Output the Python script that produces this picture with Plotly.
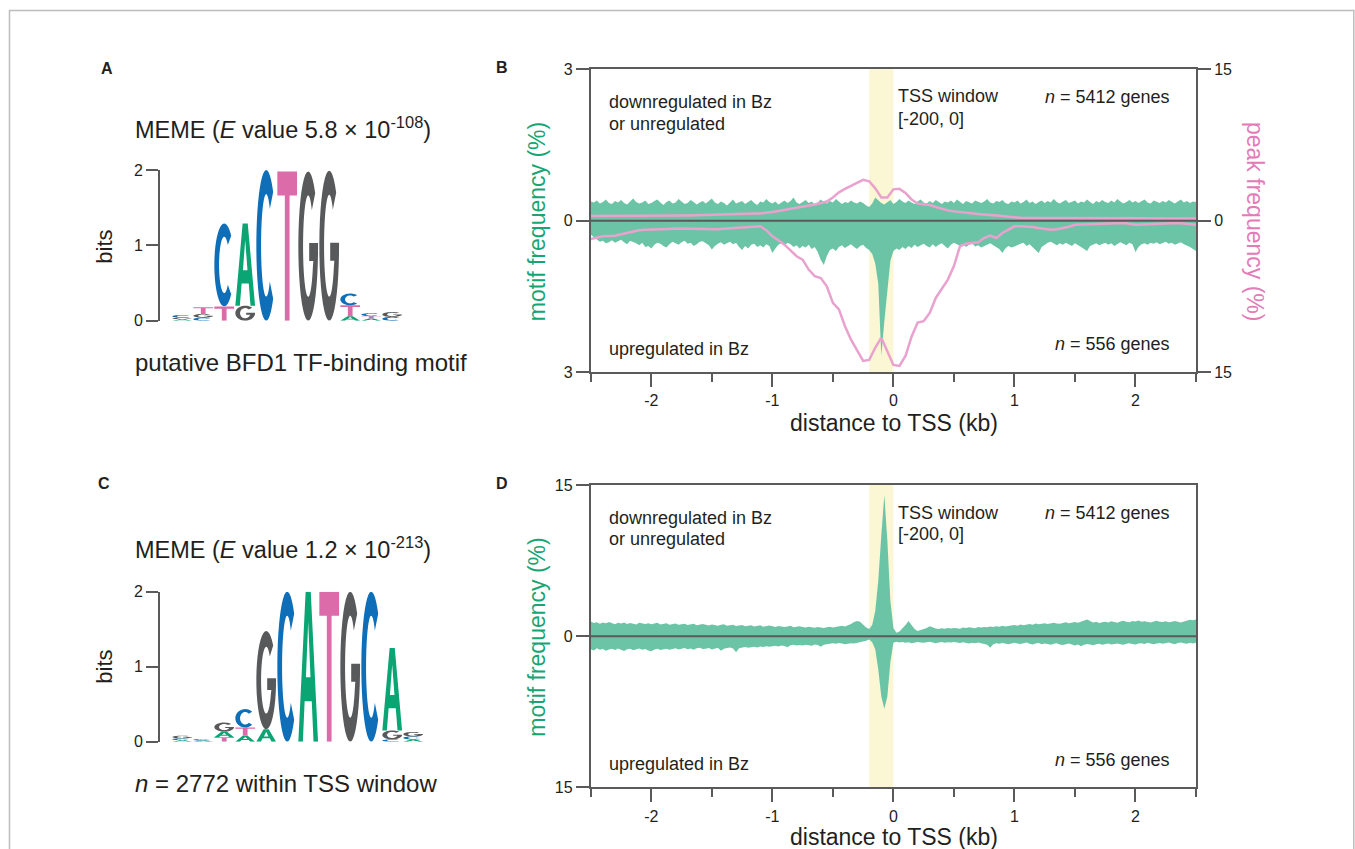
import numpy as np
import plotly.graph_objects as go

W, H = 1355, 849

# ------------------------------------------------------------------ data
# distance grid (kb) for motif-frequency profiles
dist_kb = [round(-2.5 + 0.025 * i, 3) for i in range(201)]
# distance grid (kb) for peak-frequency profiles
peak_kb = [round(-2.5 + 0.05 * i, 3) for i in range(101)]

# Panel B: motif frequency (%), downregulated or unregulated genes (plotted upward)
B_motif_down_unreg = [
    0.38, 0.36, 0.40, 0.34, 0.37, 0.42, 0.35, 0.33, 0.39, 0.36,
    0.41, 0.35, 0.32, 0.38, 0.44, 0.37, 0.34, 0.36, 0.40, 0.33,
    0.35, 0.39, 0.42, 0.36, 0.31, 0.37, 0.40, 0.34, 0.36, 0.43,
    0.38, 0.33, 0.35, 0.41, 0.37, 0.32, 0.36, 0.39, 0.34, 0.40,
    0.44, 0.36, 0.33, 0.38, 0.35, 0.30, 0.37, 0.42, 0.34, 0.36,
    0.39, 0.33, 0.37, 0.41, 0.35, 0.31, 0.38, 0.36, 0.43, 0.37,
    0.34, 0.38, 0.32, 0.36, 0.40, 0.35, 0.39, 0.46, 0.36, 0.33,
    0.37, 0.41, 0.35, 0.38, 0.32, 0.36, 0.42, 0.37, 0.34, 0.39,
    0.36, 0.43, 0.38, 0.33, 0.37, 0.35, 0.40, 0.36, 0.34, 0.38,
    0.35, 0.30, 0.27, 0.34, 0.46, 0.40, 0.35, 0.32, 0.36, 0.41,
    0.33, 0.37, 0.43, 0.38, 0.35, 0.40, 0.36, 0.33, 0.38, 0.42,
    0.36, 0.34, 0.39, 0.35, 0.41, 0.37, 0.33, 0.38, 0.36, 0.40,
    0.35, 0.42, 0.37, 0.33, 0.39, 0.36, 0.34, 0.40, 0.37, 0.35,
    0.38, 0.43, 0.36, 0.34, 0.39, 0.37, 0.41, 0.35, 0.33, 0.38,
    0.36, 0.40, 0.34, 0.37, 0.42, 0.35, 0.38, 0.33, 0.37, 0.40,
    0.35, 0.39, 0.36, 0.43, 0.37, 0.34, 0.38, 0.41, 0.35, 0.37,
    0.40, 0.34, 0.38, 0.36, 0.42, 0.37, 0.33, 0.39, 0.36, 0.41,
    0.37, 0.35, 0.40, 0.36, 0.43, 0.38, 0.34, 0.37, 0.41, 0.36,
    0.39, 0.35, 0.38, 0.42, 0.36, 0.34, 0.40, 0.37, 0.35, 0.39,
    0.36, 0.41, 0.37, 0.34, 0.38, 0.42, 0.36, 0.39, 0.35, 0.38,
    0.37,
]
# Panel B: motif frequency (%), upregulated genes (plotted downward)
B_motif_up = [
    0.28, 0.33, 0.38, 0.42, 0.40, 0.45, 0.43, 0.39, 0.44, 0.41,
    0.38, 0.43, 0.47, 0.40, 0.42, 0.45, 0.49, 0.44, 0.52, 0.50,
    0.55, 0.48, 0.44, 0.46, 0.50, 0.53, 0.47, 0.42, 0.45, 0.48,
    0.43, 0.40, 0.46, 0.44, 0.50, 0.47, 0.42, 0.41, 0.45, 0.49,
    0.57, 0.50, 0.46, 0.43, 0.48, 0.45, 0.42, 0.47, 0.44, 0.52,
    0.58, 0.50, 0.55, 0.48, 0.46, 0.52, 0.49, 0.53, 0.47, 0.50,
    0.64, 0.55, 0.48, 0.45, 0.50, 0.44, 0.47, 0.52, 0.49, 0.55,
    0.50, 0.53, 0.48, 0.56, 0.52, 0.62, 0.78, 0.88, 0.70, 0.58,
    0.55, 0.60, 0.52, 0.49, 0.54, 0.50, 0.47, 0.52, 0.56, 0.50,
    0.48, 0.54, 0.58, 0.66, 0.85, 1.25, 2.68, 2.00, 1.35, 0.80,
    0.60, 0.55, 0.58, 0.52, 0.56, 0.50, 0.54, 0.48, 0.52, 0.49,
    0.46, 0.50, 0.53, 0.47, 0.52, 0.48, 0.45, 0.50, 0.55, 0.48,
    0.44, 0.47, 0.50, 0.46, 0.52, 0.48, 0.45, 0.51, 0.49, 0.53,
    0.50, 0.47, 0.45, 0.49, 0.52, 0.56, 0.64, 0.55, 0.50, 0.53,
    0.51, 0.48, 0.46, 0.44, 0.50, 0.47, 0.53, 0.58, 0.64, 0.52,
    0.48, 0.44, 0.42, 0.46, 0.49, 0.45, 0.48, 0.44, 0.47, 0.50,
    0.45, 0.48, 0.52, 0.56, 0.60, 0.50, 0.47, 0.45, 0.49, 0.46,
    0.44, 0.48, 0.45, 0.50, 0.47, 0.43, 0.46, 0.49, 0.44, 0.47,
    0.62, 0.52, 0.47, 0.45, 0.48, 0.44, 0.46, 0.43, 0.47, 0.45,
    0.42, 0.46, 0.44, 0.48, 0.45, 0.43, 0.47, 0.49, 0.52, 0.56,
    0.60,
]
# Panel B: ChIP peak frequency (%), downregulated or unregulated (upward)
peak_down_unreg = [
    0.45, 0.45, 0.44, 0.44, 0.45, 0.46, 0.46, 0.45, 0.46, 0.47,
    0.47, 0.48, 0.48, 0.49, 0.50, 0.51, 0.52, 0.53, 0.54, 0.56,
    0.58, 0.60, 0.61, 0.62, 0.64, 0.66, 0.68, 0.70, 0.72, 0.76,
    0.85, 0.95, 1.05, 1.15, 1.25, 1.35, 1.48, 1.60, 1.75, 1.90,
    2.30, 2.80, 3.15, 3.45, 3.73, 4.05, 3.90, 3.20, 2.30, 2.30,
    3.10, 3.15, 2.75, 2.10, 1.70, 1.62, 1.55, 1.35, 1.16, 1.02,
    0.92, 0.84, 0.76, 0.70, 0.65, 0.62, 0.58, 0.52, 0.45, 0.38,
    0.30, 0.28, 0.27, 0.27, 0.28, 0.28, 0.29, 0.30, 0.30, 0.29,
    0.28, 0.27, 0.27, 0.26, 0.26, 0.25, 0.25, 0.24, 0.24, 0.24,
    0.23, 0.23, 0.23, 0.22, 0.22, 0.22, 0.22, 0.22, 0.22, 0.22,
    0.22,
]
# Panel B: ChIP peak frequency (%), upregulated (downward)
peak_up = [
    1.82, 1.65, 1.55, 1.52, 1.49, 1.35, 1.22, 1.06, 0.95, 0.89,
    0.89, 0.87, 0.85, 0.82, 0.79, 0.80, 0.82, 0.84, 0.85, 0.86,
    0.86, 0.84, 0.80, 0.77, 0.73, 0.68, 0.63, 0.60, 0.56, 0.95,
    1.55, 1.95, 2.38, 2.95, 3.53, 3.86, 4.85, 5.50, 5.68, 6.50,
    8.15, 8.80, 10.46, 11.80, 12.80, 13.90, 13.80, 12.60, 11.60, 12.90,
    14.30, 14.40, 13.40, 11.50, 10.10, 9.97, 9.14, 7.66, 6.80, 5.84,
    4.50, 2.54, 2.28, 2.20, 2.14, 1.72, 1.49, 1.72, 1.22, 0.89,
    0.56, 0.55, 0.56, 0.62, 0.73, 0.80, 0.89, 0.85, 0.73, 0.60,
    0.40, 0.38, 0.35, 0.32, 0.30, 0.28, 0.26, 0.25, 0.23, 0.30,
    0.40, 0.38, 0.34, 0.32, 0.30, 0.28, 0.25, 0.23, 0.30, 0.36,
    0.40,
]
# Panel D: motif frequency (%), downregulated or unregulated (upward)
D_motif_down_unreg = [
    1.45, 1.30, 1.38, 1.22, 1.35, 1.28, 1.40, 1.25, 1.18, 1.32,
    1.26, 1.36, 1.20, 1.30, 1.24, 1.15, 1.33, 1.27, 1.21, 1.29,
    1.18, 1.25, 1.32, 1.16, 1.22, 1.28, 1.14, 1.20, 1.26, 1.12,
    1.19, 1.24, 1.10, 1.17, 1.22, 1.08, 1.15, 1.20, 1.12, 1.06,
    1.16, 1.10, 1.04, 1.12, 1.18, 1.02, 1.08, 1.14, 1.00, 1.06,
    1.10, 0.98, 1.04, 1.08, 0.96, 1.02, 1.07, 0.94, 1.00, 1.05,
    0.98, 0.92, 1.00, 0.95, 0.90, 0.97, 1.02, 0.88, 0.93, 0.98,
    0.90, 0.86, 0.94, 0.88, 0.84, 0.92, 0.86, 0.82, 0.88, 0.94,
    0.86, 0.92, 0.98, 1.02, 0.95, 1.05, 1.20, 1.40, 1.50, 1.42,
    1.10, 0.85, 0.70, 1.10, 2.50, 5.50, 10.00, 14.00, 9.50, 3.50,
    0.80, 0.33, 0.45, 0.75, 1.10, 1.50, 1.05, 0.72, 0.52, 0.60,
    0.72, 0.80, 0.98, 0.85, 0.75, 0.70, 0.78, 0.73, 0.80, 0.76,
    0.82, 0.78, 0.74, 0.85, 0.80, 0.88, 0.83, 0.79, 0.90, 0.86,
    0.92, 0.88, 0.95, 0.90, 0.98, 0.93, 1.02, 0.96, 1.00, 1.05,
    1.10, 1.02, 1.16, 1.08, 1.12, 1.20, 1.14, 1.25, 1.18, 1.22,
    1.28, 1.20, 1.24, 1.32, 1.26, 1.22, 1.30, 1.38, 1.28, 1.34,
    1.40, 1.32, 1.45, 1.58, 1.66, 1.50, 1.36, 1.42, 1.30, 1.38,
    1.44, 1.36, 1.48, 1.40, 1.34, 1.46, 1.52, 1.42, 1.38, 1.50,
    1.45, 1.55, 1.42, 1.48, 1.40, 1.36, 1.46, 1.52, 1.44, 1.40,
    1.48, 1.38, 1.44, 1.50, 1.42, 1.36, 1.46, 1.55, 1.62, 1.58,
    1.66,
]
# Panel D: motif frequency (%), upregulated (downward)
D_motif_up = [
    1.30, 1.42, 1.20, 1.35, 1.28, 1.45, 1.32, 1.25, 1.38, 1.22,
    1.34, 1.48, 1.30, 1.26, 1.40, 1.33, 1.22, 1.36, 1.28, 1.42,
    1.50, 1.32, 1.26, 1.38, 1.30, 1.24, 1.35, 1.28, 1.20, 1.33,
    1.26, 1.18, 1.30, 1.22, 1.35, 1.20, 1.15, 1.28, 1.24, 1.18,
    1.32, 1.22, 1.15, 1.45, 1.25, 1.18, 1.12, 1.22, 1.60, 1.20,
    1.14, 1.08, 1.16, 1.10, 1.05, 1.12, 1.02, 1.08, 1.00, 1.05,
    1.00, 0.95, 1.02, 0.92, 0.98, 1.10, 0.90, 0.86, 0.94, 0.88,
    0.92, 0.85, 0.90, 0.96, 0.82, 0.88, 1.05, 0.85, 0.80, 0.76,
    0.70, 0.75, 0.68, 0.72, 0.80, 0.76, 0.70, 0.74, 0.68, 0.62,
    0.58, 0.45, 0.33, 0.60, 1.30, 3.30, 6.00, 7.20, 6.00, 2.60,
    0.66, 0.55, 0.62, 0.58, 0.66, 0.60, 0.70, 0.64, 0.58, 0.62,
    0.66, 0.60, 0.56, 0.64, 0.70, 0.62, 0.58, 0.66, 0.60, 0.64,
    0.58, 0.62, 0.68, 0.60, 0.64, 0.72, 0.66, 0.70, 0.62, 0.68,
    0.74, 0.86, 1.16, 0.80, 0.70, 0.76, 0.68, 0.72, 0.80, 0.74,
    0.66, 0.72, 0.78, 0.70, 0.64, 0.76, 0.82, 0.74, 0.68, 0.80,
    0.72, 0.78, 0.86, 0.76, 0.70, 0.82, 0.88, 0.80, 0.74, 0.84,
    0.93, 0.82, 1.00, 0.86, 0.78, 0.84, 0.90, 0.80, 0.76, 0.86,
    0.80, 0.74, 0.84, 0.78, 0.72, 0.80, 0.86, 0.76, 0.70, 0.78,
    0.82, 0.74, 0.70, 0.78, 0.66, 0.72, 0.80, 0.74, 0.68, 0.76,
    0.70, 0.64, 0.72, 0.80, 0.68, 0.62, 0.70, 0.76, 0.66, 0.72,
    0.66,
]

# Sequence logos: per position, (base, bits) stacked bottom -> top
logoA_columns = [
    [("A", 0.02), ("G", 0.02), ("C", 0.035)],
    [("C", 0.04), ("G", 0.05), ("T", 0.09)],
    [("T", 0.19), ("C", 1.10)],
    [("G", 0.20), ("A", 1.09)],
    [("C", 2.00)],
    [("T", 1.98)],
    [("G", 1.98)],
    [("G", 1.99)],
    [("A", 0.06), ("T", 0.145), ("C", 0.155)],
    [("A", 0.03), ("T", 0.03), ("C", 0.04)],
    [("C", 0.05), ("G", 0.065)],
]
logoC_columns = [
    [("A", 0.02), ("C", 0.025), ("G", 0.035)],
    [("A", 0.015), ("C", 0.02)],
    [("T", 0.06), ("A", 0.075), ("G", 0.12)],
    [("A", 0.08), ("T", 0.11), ("C", 0.245)],
    [("A", 0.165), ("G", 1.31)],
    [("C", 2.00)],
    [("A", 2.00)],
    [("T", 2.00)],
    [("G", 2.00)],
    [("C", 2.00)],
    [("C", 0.03), ("G", 0.12), ("A", 1.10)],
    [("A", 0.03), ("C", 0.04), ("G", 0.06)],
]
logo_ticks = [0, 1, 2]
dist_ticks = [-2, -1, 0, 1, 2]
dist_ticklabels = ["-2", "-1", "0", "1", "2"]
dist_minor = [-2.5, -1.5, -0.5, 0.5, 1.5, 2.5]
tss_window = [-0.2, 0.0]

assert len(B_motif_down_unreg) == 201 and len(B_motif_up) == 201
assert len(D_motif_down_unreg) == 201 and len(D_motif_up) == 201
assert len(peak_down_unreg) == 101 and len(peak_up) == 101

# ------------------------------------------------------------------ style
FONT = "Liberation Sans, Arial, Helvetica, sans-serif"
TXT = "#231F20"
AX = "#5A5A5A"
GREEN_FILL = "#6CC4A7"
GREEN_TXT = "#17A673"
PINK_LINE = "#E9A2CD"
PINK_TXT = "#E37BB7"
YELLOW = "#FBF6D3"
BASE_COLORS = {"A": "#0BA574", "C": "#0E6EB7", "G": "#58595B", "T": "#DC6BA9"}


def px(x):
    return x / W


def py(y):
    return 1 - y / H


# ------------------------------------------------------------------ glyphs
def arc(a0, a1, rx, ry, n=36):
    ang = np.radians(np.linspace(a0, a1, n))
    return [(0.5 + rx * np.cos(a), 0.5 + ry * np.sin(a)) for a in ang]


GLYPHS = {
    "T": [[(0, 1), (1, 1), (1, 0.84), (0.62, 0.84), (0.62, 0), (0.38, 0),
           (0.38, 0.84), (0, 0.84)]],
    "A": [[(0, 0), (0.37, 1), (0.63, 1), (1, 0), (0.77, 0), (0.68, 0.27),
           (0.32, 0.27), (0.23, 0)],
          [(0.385, 0.43), (0.615, 0.43), (0.5, 0.80)]],
    "C": [arc(45, 315, 0.5, 0.5) + arc(315, 45, 0.26, 0.34)],
    "G": [arc(45, 355, 0.5, 0.5)
          + [(1.0, 0.52), (0.55, 0.52), (0.55, 0.40), (0.76, 0.40)]
          + arc(335, 45, 0.26, 0.34)],
}


def glyph_path(letter, center, bottom, height, width=0.94):
    parts = []
    for poly in GLYPHS[letter]:
        pts = [(center - width / 2 + u * width, bottom + v * height) for u, v in poly]
        parts.append("M " + " L ".join(f"{x:.4f},{y:.5f}" for x, y in pts) + " Z")
    return " ".join(parts)


shapes = []


def add_logo(columns, xref, yref):
    for k, col in enumerate(columns, start=1):
        bottom = 0.0
        for letter, h in col:
            shapes.append(dict(type="path", xref=xref, yref=yref,
                               path=glyph_path(letter, k, bottom, h),
                               fillcolor=BASE_COLORS[letter], line=dict(width=0),
                               layer="above"))
            bottom += h


add_logo(logoA_columns, "x", "y")
add_logo(logoC_columns, "x2", "y2")

# TSS window bands and zero lines
for xr, yr in (("x3", "y3"), ("x4", "y5")):
    shapes.append(dict(type="rect", xref=xr, yref=f"{yr} domain",
                       x0=tss_window[0], x1=tss_window[1], y0=0, y1=1,
                       fillcolor=YELLOW, line=dict(width=0), layer="below"))
    shapes.append(dict(type="line", xref=f"{xr} domain", yref=yr,
                       x0=0, x1=1, y0=0, y1=0,
                       line=dict(color=AX, width=2), layer="above"))

# outer frame
shapes.append(dict(type="rect", xref="paper", yref="paper",
                   x0=px(9.5), x1=px(1353.8), y0=-0.1, y1=py(10.5),
                   line=dict(color="#BDBDBD", width=1.5), fillcolor="rgba(0,0,0,0)",
                   layer="below"))

# ------------------------------------------------------------------ traces
fig = go.Figure()

# dummy invisible traces so logo axes render
for xa, ya in (("x", "y"), ("x2", "y2")):
    fig.add_trace(go.Scatter(x=[1], y=[0], xaxis=xa, yaxis=ya, mode="markers",
                             marker=dict(opacity=0), hoverinfo="skip", showlegend=False))

fill_kw = dict(mode="lines", line=dict(width=0, color=GREEN_FILL), fill="tozeroy",
               fillcolor=GREEN_FILL, hoverinfo="skip", showlegend=False)
fig.add_trace(go.Scatter(x=dist_kb, y=B_motif_down_unreg, xaxis="x3", yaxis="y3", **fill_kw))
fig.add_trace(go.Scatter(x=dist_kb, y=[-v for v in B_motif_up], xaxis="x3", yaxis="y3", **fill_kw))
fig.add_trace(go.Scatter(x=dist_kb, y=D_motif_down_unreg, xaxis="x4", yaxis="y5", **fill_kw))
fig.add_trace(go.Scatter(x=dist_kb, y=[-v for v in D_motif_up], xaxis="x4", yaxis="y5", **fill_kw))

line_kw = dict(mode="lines", line=dict(width=2.5, color=PINK_LINE),
               hoverinfo="skip", showlegend=False)
fig.add_trace(go.Scatter(x=peak_kb, y=peak_down_unreg, xaxis="x3", yaxis="y4", **line_kw))
fig.add_trace(go.Scatter(x=peak_kb, y=[-v for v in peak_up], xaxis="x3", yaxis="y4", **line_kw))

# ------------------------------------------------------------------ axes
tickfont = dict(family=FONT, size=16, color=TXT)
axline = dict(showline=True, linecolor=AX, linewidth=2, ticks="outside",
              tickcolor=AX, tickwidth=2, showgrid=False, zeroline=False,
              tickfont=tickfont, automargin=False)

logo_x = dict(range=[-0.057, 12.8], visible=False, fixedrange=True)
logo_y = dict(range=[0, 2], tickvals=logo_ticks, ticklen=12, **axline)

dist_x = dict(domain=[px(590.8), px(1196)], range=[-2.5, 2.5],
              tickvals=dist_ticks, ticktext=dist_ticklabels, ticklen=13, mirror=True,
              minor=dict(tickmode="array", tickvals=dist_minor, ticks="outside",
                         ticklen=8, tickwidth=2, tickcolor=AX, showgrid=False),
              **axline)

fig.update_layout(
    width=W, height=H, autosize=False,
    margin=dict(l=0, r=0, t=0, b=0, pad=0, autoexpand=False),
    paper_bgcolor="white", plot_bgcolor="rgba(0,0,0,0)",
    font=dict(family=FONT, color=TXT),
    showlegend=False,
    xaxis=dict(domain=[px(160), px(430)], anchor="y", **logo_x),
    yaxis=dict(domain=[py(320.7), py(170)], anchor="x", **logo_y),
    xaxis2=dict(domain=[px(160), px(430)], anchor="y2", **logo_x),
    yaxis2=dict(domain=[py(741.7), py(591.7)], anchor="x2", **logo_y),
    xaxis3=dict(anchor="y3", **dist_x),
    yaxis3=dict(domain=[py(372), py(69.3)], anchor="x3", range=[-3, 3],
                tickvals=[-3, 0, 3], ticktext=["3", "0", "3"], ticklen=13,
                mirror=True, **axline),
    yaxis4=dict(overlaying="y3", side="right", anchor="x3", range=[-15, 15],
                tickvals=[-15, 0, 15], ticktext=["15", "0", "15"], ticklen=13,
                **axline),
    xaxis4=dict(anchor="y5", **dist_x),
    yaxis5=dict(domain=[py(787.3), py(485)], anchor="x4", range=[-15, 15],
                tickvals=[-15, 0, 15], ticktext=["15", "0", "15"], ticklen=13,
                mirror=True, **axline),
    shapes=shapes,
)

# ------------------------------------------------------------------ text
ann = []


def T(text, x, y, size=18, xanchor="left", color=TXT, angle=0, bold=False):
    ann.append(dict(text=f"<b>{text}</b>" if bold else text,
                    x=px(x), y=py(y), xref="paper", yref="paper",
                    xanchor=xanchor, yanchor="middle", showarrow=False,
                    textangle=angle,
                    font=dict(family=FONT, size=size, color=color)))


# panel letters
T("A", 107, 68, 16, "center", bold=True)
T("B", 502, 67, 16, "center", bold=True)
T("C", 104, 483, 16, "center", bold=True)
T("D", 502, 483, 16, "center", bold=True)

# logo panels
T("MEME (<i>E</i> value 5.8 × 10<sup>-108</sup>)", 133, 128, 23.5)
T("putative BFD1 TF-binding motif", 133, 363, 24)
T("bits", 105, 246.7, 22, "center", angle=-90)
T("MEME (<i>E</i> value 1.2 × 10<sup>-213</sup>)", 133, 548, 23.5)
T("<i>n</i> = 2772 within TSS window", 133, 783, 24)
T("bits", 105, 666.7, 22, "center", angle=-90)

# panel B
T("downregulated in Bz", 607, 102.5)
T("or unregulated", 607, 123.5)
T("TSS window", 896, 96)
T("[-200, 0]", 896, 118.5)
T("<i>n</i> = 5412 genes", 1172, 97, xanchor="right")
T("upregulated in Bz", 607, 348.5)
T("<i>n</i> = 556 genes", 1172, 344, xanchor="right")
T("motif frequency (%)", 536.7, 221.5, 23, "center", GREEN_TXT, -90)
T("peak frequency (%)", 1255, 221, 23, "center", PINK_TXT, 90)
T("distance to TSS (kb)", 894, 423, 23, "center")

# panel D
T("downregulated in Bz", 607, 517.5)
T("or unregulated", 607, 539)
T("TSS window", 896, 512.5)
T("[-200, 0]", 896, 534)
T("<i>n</i> = 5412 genes", 1172, 512.5, xanchor="right")
T("upregulated in Bz", 607, 764)
T("<i>n</i> = 556 genes", 1172, 759.5, xanchor="right")
T("motif frequency (%)", 536.7, 637, 23, "center", GREEN_TXT, -90)
T("distance to TSS (kb)", 894, 837, 23, "center")

fig.update_layout(annotations=ann)

PAGE_FIX = (
    "document.documentElement.style.margin='0';"
    "document.documentElement.style.overflow='hidden';"
    "document.body.style.margin='0';"
    "document.body.style.overflow='hidden';"
    "var gds=document.getElementsByClassName('plotly-graph-div');"
    "for(var i=0;i<gds.length;i++){gds[i].style.position='fixed';"
    "gds[i].style.left='0px';gds[i].style.top='0px';}"
)

fig.write_html(
    "out.html",
    config={"displayModeBar": False},
    post_script=PAGE_FIX,
)
